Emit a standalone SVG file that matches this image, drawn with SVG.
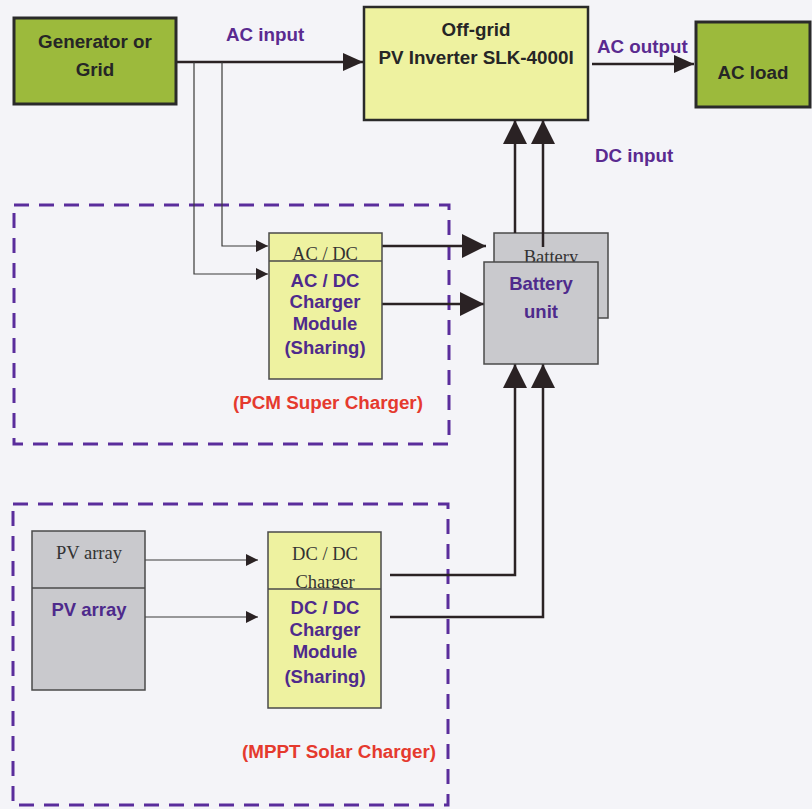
<svg xmlns="http://www.w3.org/2000/svg" width="812" height="809" viewBox="0 0 812 809">
<defs>
<style>
.bg{fill:#f4f4f8}
.green{fill:#9cba3c;stroke:#2a2a2a;stroke-width:3}
.yel{fill:#eef2a0;stroke:#2a2a2a;stroke-width:2.5}
.yel2{fill:#eef2a0;stroke:#4a4a4a;stroke-width:1.5}
.gray{fill:#c9c9cd;stroke:#4a4a4a;stroke-width:1.5}
.dash{fill:none;stroke:#5a2d9c;stroke-width:3;stroke-dasharray:15 10}
.thick{fill:none;stroke:#2a2224;stroke-width:2.5}
.thin{fill:none;stroke:#3a3a3a;stroke-width:1.2}
.bk{font-family:"Liberation Sans",Arial,sans-serif;font-weight:bold;font-size:18.8px;fill:#262626;text-anchor:middle}
.pu{font-family:"Liberation Sans",Arial,sans-serif;font-weight:bold;font-size:18.8px;fill:#5a2a90}
.pm{font-family:"Liberation Sans",Arial,sans-serif;font-weight:bold;font-size:18.5px;fill:#4e2a8c;text-anchor:middle}
.rd{font-family:"Liberation Sans",Arial,sans-serif;font-weight:bold;font-size:18.8px;fill:#e53a2e}
.sf{font-family:"Liberation Serif","Times New Roman",serif;font-size:18.5px;fill:#333;text-anchor:middle}
</style>
<marker id="big" markerUnits="userSpaceOnUse" markerWidth="24" markerHeight="24" viewBox="0 0 22 22" refX="22" refY="11" orient="auto"><path d="M0,0 L22,11 L0,22 Z" fill="#2a2224"/></marker>
<marker id="mid" markerUnits="userSpaceOnUse" markerWidth="20" markerHeight="18" viewBox="0 0 18 16" refX="18" refY="8" orient="auto"><path d="M0,0 L18,8 L0,16 Z" fill="#2a2224"/></marker>
<marker id="small" markerUnits="userSpaceOnUse" markerWidth="12" markerHeight="12" viewBox="0 0 11 11" refX="11" refY="5.5" orient="auto"><path d="M0,0 L11,5.5 L0,11 Z" fill="#2a2224"/></marker>
</defs>
<rect class="bg" x="0" y="0" width="812" height="809"/>

<g id="groups">
<rect id="pcm-box" class="dash" x="14" y="205" width="435" height="239"/>
<text class="rd" x="233" y="409">(PCM Super Charger)</text>
<rect id="mppt-box" class="dash" x="13" y="504" width="435" height="301"/>
<text class="rd" x="242" y="758">(MPPT Solar Charger)</text>
</g>

<g id="connectors">
<path class="thick" d="M176,62 H363" marker-end="url(#mid)"/>
<path class="thin" d="M222,62 V246 H268" marker-end="url(#small)"/>
<path class="thin" d="M194,62 V274 H268" marker-end="url(#small)"/>
<path class="thick" d="M592,64 H694" marker-end="url(#mid)"/>
<path class="thick" d="M382,246 H486" marker-end="url(#big)"/>
<path class="thick" d="M382,304 H484" marker-end="url(#big)"/>
<path class="thin" d="M145,560 H258" marker-end="url(#small)"/>
<path class="thin" d="M145,617 H258" marker-end="url(#small)"/>
<path class="thick" d="M390,575 H515 V364" marker-end="url(#big)"/>
<path class="thick" d="M390,617 H543 V364" marker-end="url(#big)"/>
</g>

<g id="generator">
<rect class="green" x="14" y="18" width="162" height="86"/>
<text class="bk" x="95" y="48">Generator or</text>
<text class="bk" x="95" y="76">Grid</text>
</g>
<text id="ac-input-label" class="pu" x="226" y="41">AC input</text>

<g id="inverter">
<rect class="yel" x="364" y="7" width="224" height="113"/>
<text class="bk" x="476" y="36">Off-grid</text>
<text class="bk" x="476" y="64">PV Inverter SLK-4000I</text>
</g>
<text id="ac-output-label" class="pu" x="597" y="53">AC output</text>

<g id="acload">
<rect class="green" x="696" y="22" width="114" height="85"/>
<text class="bk" x="753" y="79">AC load</text>
</g>
<text id="dc-input-label" class="pu" x="595" y="162">DC input</text>

<g id="battery">
<rect class="gray" x="494" y="233" width="114" height="85"/>
<text class="sf" x="551" y="263">Battery</text>
<path class="thick" d="M515,233 V120" marker-end="url(#big)"/>
<path class="thick" d="M543,247 V120" marker-end="url(#big)"/>
<rect class="gray" x="484" y="262" width="114" height="102"/>
<text class="pm" x="541" y="290">Battery</text>
<text class="pm" x="541" y="318">unit</text>
</g>

<g id="acdc-charger">
<rect class="yel2" x="269" y="233" width="113" height="146"/>
<text class="sf" x="325" y="260">AC / DC</text>
<rect x="270" y="261" width="111" height="5" fill="#eef2a0"/>
<line x1="269" y1="261" x2="382" y2="261" stroke="#4a4a4a" stroke-width="1.5"/>
<text class="pm" x="325" y="287">AC / DC</text>
<text class="pm" x="325" y="308">Charger</text>
<text class="pm" x="325" y="330">Module</text>
<text class="pm" x="325" y="354">(Sharing)</text>
</g>

<g id="pv-array">
<rect class="gray" x="32" y="531" width="113" height="159"/>
<text class="sf" x="89" y="559">PV array</text>
<line x1="32" y1="588" x2="145" y2="588" stroke="#4a4a4a" stroke-width="1.5"/>
<text class="pm" x="89" y="616">PV array</text>
</g>

<g id="dcdc-charger">
<rect class="yel2" x="268" y="532" width="113" height="176"/>
<text class="sf" x="325" y="560">DC / DC</text>
<text class="sf" x="325" y="588">Charger</text>
<rect x="269" y="589" width="111" height="5" fill="#eef2a0"/>
<line x1="268" y1="589" x2="381" y2="589" stroke="#4a4a4a" stroke-width="1.5"/>
<text class="pm" x="325" y="614">DC / DC</text>
<text class="pm" x="325" y="636">Charger</text>
<text class="pm" x="325" y="658">Module</text>
<text class="pm" x="325" y="683">(Sharing)</text>
</g>
</svg>
